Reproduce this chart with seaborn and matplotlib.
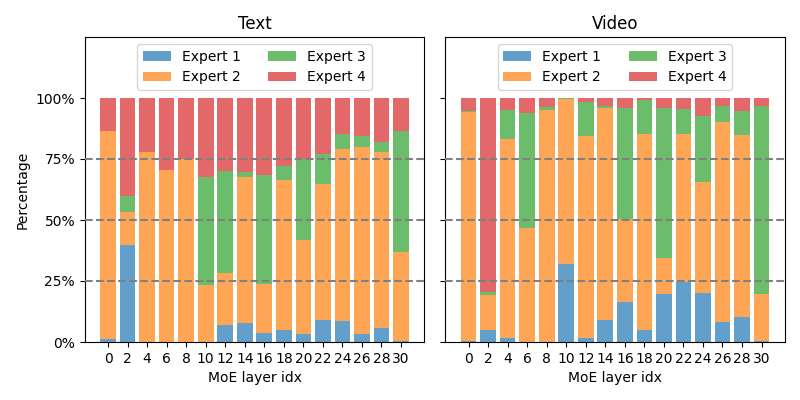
import numpy as np
import pandas as pd
import matplotlib
matplotlib.use("Agg")
import matplotlib.pyplot as plt
import matplotlib.colors as mcolors
from matplotlib.patches import Patch
import seaborn as sns

layers = [0, 2, 4, 6, 8, 10, 12, 14, 16, 18, 20, 22, 24, 26, 28, 30]
experts = ["Expert 1", "Expert 2", "Expert 3", "Expert 4"]

# Text modality shares (percent)
text_e1 = [1.2, 39.8, 0.0, 0.0, 0.0, 0.0, 7.0, 7.8, 3.7, 4.9, 3.3, 9.0, 8.6, 3.3, 5.7, 0.4]
text_e2 = [85.3, 13.5, 77.9, 70.5, 74.9, 23.4, 21.3, 59.8, 20.1, 61.5, 38.5, 55.8, 70.5, 76.6, 72.2, 36.5]
text_e3 = [0.0, 6.5, 0.0, 0.0, 0.0, 44.2, 41.8, 2.1, 44.6, 5.7, 33.2, 12.2, 6.1, 4.5, 4.1, 49.6]
text_e4 = [13.5, 40.2, 22.1, 29.5, 25.1, 32.4, 29.9, 30.3, 31.6, 27.9, 25.0, 23.0, 14.8, 15.6, 18.0, 13.5]

# Video modality shares (percent)
video_e1 = [0.4, 4.9, 1.6, 0.0, 0.0, 32.0, 1.6, 9.0, 16.4, 4.9, 19.7, 24.6, 20.1, 8.2, 10.2, 0.4]
video_e2 = [93.9, 14.4, 81.6, 46.7, 95.1, 67.6, 82.8, 86.9, 34.0, 80.3, 14.7, 60.6, 45.5, 82.0, 74.6, 19.3]
video_e3 = [0.4, 1.2, 11.9, 47.2, 1.2, 0.4, 14.0, 0.8, 45.5, 14.0, 61.5, 10.3, 27.0, 6.5, 9.9, 77.0]
video_e4 = [5.3, 79.5, 4.9, 6.1, 3.7, 0.0, 1.6, 3.3, 4.1, 0.8, 4.1, 4.5, 7.4, 3.3, 5.3, 3.3]

titles = ["Text", "Video"]
data_sets = [
    [text_e1, text_e2, text_e3, text_e4],
    [video_e1, video_e2, video_e3, video_e4],
]

base_colors = ["tab:blue", "tab:orange", "tab:green", "tab:red"]
alpha = 0.7


def blend(c, a):
    r, g, b = mcolors.to_rgb(c)
    return (1 - a + a * r, 1 - a + a * g, 1 - a + a * b)


colors = [blend(c, alpha) for c in base_colors]

fig, axes = plt.subplots(1, 2, figsize=(8, 4), dpi=100, sharey=True)
fig.subplots_adjust(left=0.106, right=0.981, top=0.9075, bottom=0.145, wspace=0.062)

for ax, title, series in zip(axes, titles, data_sets):
    arr = np.array(series) / 100.0
    cum = np.cumsum(arr, axis=0)
    cum = cum / cum[-1]
    # draw tallest cumulative first so lower segments sit on top
    for k in range(3, -1, -1):
        df = pd.DataFrame({"layer": [str(l) for l in layers], "value": cum[k]})
        sns.barplot(data=df, x="layer", y="value", order=[str(l) for l in layers],
                    color=colors[k], width=0.8, linewidth=0, saturation=1,
                    ax=ax, zorder=2)
    for yv in [0.25, 0.5, 0.75]:
        ax.axhline(yv, color="gray", linestyle="--", linewidth=1.5, zorder=3)
    ax.set_xlim(-1.19, 15 + 1.19)
    ax.set_ylim(0, 1.25)
    ax.set_yticks([0, 0.25, 0.5, 0.75, 1.0])
    ax.set_yticklabels(["0%", "25%", "50%", "75%", "100%"])
    ax.set_title(title, fontsize=12)
    ax.set_xlabel("MoE layer idx")
    ax.set_ylabel("")
    handles = [Patch(facecolor=colors[i], label=experts[i]) for i in range(4)]
    ax.legend(handles=handles, loc="upper center", ncol=2)

axes[0].set_ylabel("Percentage")
axes[1].tick_params(labelleft=False)

fig.savefig("out.png", dpi=100)
